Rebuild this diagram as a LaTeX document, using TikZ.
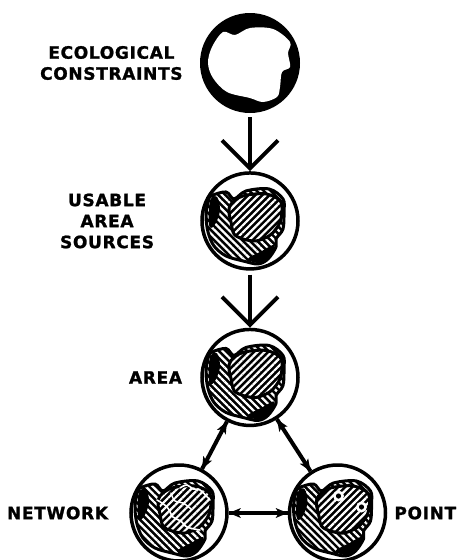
\documentclass[tikz,border=0pt]{standalone}
\usepackage{fontspec}
\setmainfont{DejaVu Sans}
\newfontfamily\labelfont{DejaVu Sans}[LetterSpace=4, BoldFeatures={FakeBold=1.3}]
\usetikzlibrary{positioning, arrows.meta, patterns.meta, decorations.markings}

\begin{document}
\begin{tikzpicture}[
    x=1pt, y=-1pt, node distance=57pt,
    every node/.style={font=\labelfont\bfseries\fontsize{17}{21}\selectfont},
    ring/.style={circle, draw, line width=3.5pt, minimum size=96pt, inner sep=0pt},
    tag/.style={inner sep=0pt, align=center},
    flow/.style={line width=4pt, shorten <=4pt, arrows={-Straight Barb[length=28pt, width=56pt]}},
    link/.style={line width=4pt, postaction={decorate}, decoration={markings,
        mark=at position 0.001 with {\fill (12,-5) -- (0,0) -- (12,5) -- (9,0) -- cycle;},
        mark=at position 0.999 with {\fill (-12,-5) -- (0,0) -- (-12,5) -- (-9,0) -- cycle;}}},
    hatch/.style={preaction={fill=black}, pattern color=white, draw, line width=3pt, line join=round},
    hole/.pic={
      \fill[white] plot[smooth cycle, tension=0.55] coordinates {(-27,-31) (-15,-28) (0,-35) (23,-34) (40,-21) (38,-10) (40,4) (32,9) (30,24) (27,34) (13,39) (0,35) (-23,29) (-37,15) (-42,0) (-38,-16)};
    },
    land/.pic={
      \path[hatch, pattern={Lines[angle=-45, distance=5pt, line width=2.2pt]}]
        plot[smooth cycle, tension=0.55] coordinates {(-39,-25) (-24,-29) (-16,-22) (-4,-30) (19,-32) (33,-22) (34,-9) (33,8) (26,18) (26,26) (18,38) (8,43) (-7,40) (-24,35) (-36,25) (-42,11) (-44,-5) (-42,-19)};
      \fill plot[smooth cycle, tension=0.6] coordinates {(-40,-20) (-33,-24) (-30,-10) (-36,5) (-41,4)};
      \fill plot[smooth cycle, tension=0.6] coordinates {(-2,38) (12,30) (24,24) (22,34) (10,42)};
      \path[hatch, pattern={Lines[angle=45, distance=5pt, line width=2.2pt]}]
        plot[smooth cycle, tension=0.55] coordinates {(-19,-17) (-7,-25) (16,-27) (31,-19) (31,-2) (26,8) (19,15) (6,20) (-7,18) (-16,13) (-19,1) (-21,-9)};
    },
    roads/.pic={
      \draw[white, line width=1.6pt, line cap=round] plot[smooth, tension=0.7] coordinates {(1,-25) (8,-28) (14,-24) (21,-23) (31,-13)};
      \draw[white, line width=1.6pt, line cap=round] plot[smooth, tension=0.7] coordinates {(-22,-13) (-12,-6) (-6,4) (2,8) (8,14) (21,17)};
      \draw[white, line width=1.4pt, line cap=round] plot[smooth, tension=0.7] coordinates {(-8,-20) (-4,-12) (4,-10) (12,-4)};
    },
    wells/.pic={
      \foreach \wx/\wy in {1/-17, 24/-6} {
        \fill[white] (\wx,\wy) circle (5.5);
        \fill (\wx,\wy) circle (2.6);
      }
    }
  ]
\useasboundingbox (0,0) rectangle (456,560);

\node[circle, fill=black, minimum size=100pt, inner sep=0pt] (eco) at (250,63) {};
\pic at (eco) {hole};

\node[ring, below=58pt of eco]                    (usable)  {};
\pic at (usable) {land};

\node[ring, below=of usable]                      (area)    {};
\pic at (area) {land};

\node[ring] at (179,513)                          (network) {};
\pic at (network) {land};
\pic at (network) {roads};

\node[ring, right=59pt of network]                (point)   {};
\pic at (point) {land};
\pic at (point) {wells};

\node[tag, left=17pt of eco]     (ecotext)  {ECOLOGICAL\\CONSTRAINTS};
\node[tag, left=46pt of usable]  (usetext)  {USABLE\\AREA\\SOURCES};
\node[tag, left=18pt of area]    (areatext) {AREA};
\node[tag, left=21pt of network] (nettext)  {NETWORK};
\node[tag, right=7pt of point]   (pointtext) {POINT};

  \draw[flow] (eco) -- (usable);
  \draw[flow] (usable) -- (area);
  \draw[link] (area) -- (network);
  \draw[link] (area) -- (point);
  \draw[link] (network) -- (point);
\end{tikzpicture}
\end{document}
